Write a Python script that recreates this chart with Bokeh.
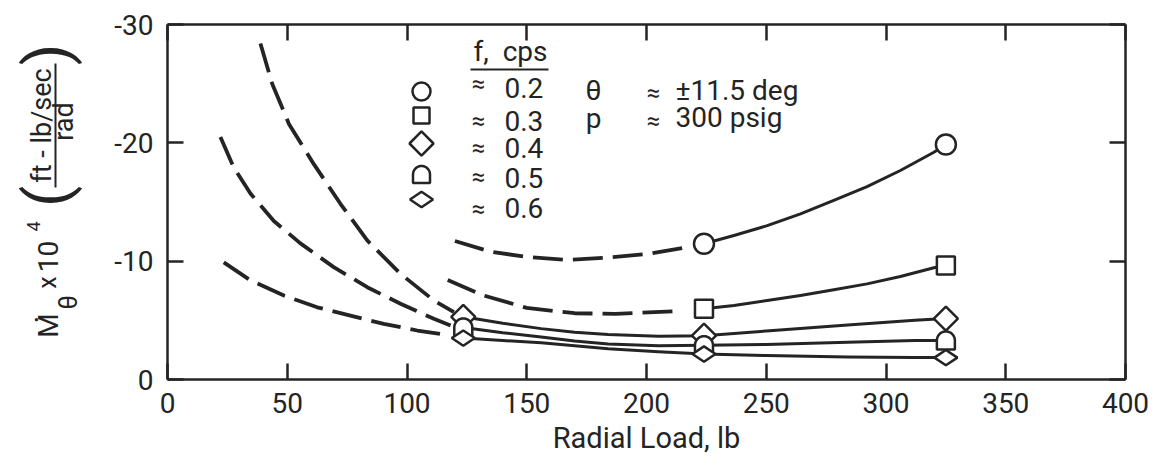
import numpy as np
from bokeh.plotting import figure
from bokeh.layouts import row
from bokeh.models import Range1d, FixedTicker, LinearAxis, Label, CustomJSTickFormatter
from bokeh.core.properties import value
from bokeh.embed import file_html
from bokeh.resources import INLINE

# ---------------- data ----------------
x_ticks = [0, 50, 100, 150, 200, 250, 300, 350, 400]
y_ticks = [0, -10, -20, -30]
freq_labels = ["0.2", "0.3", "0.4", "0.5", "0.6"]

# measured points
f02_x = [224, 325]
f02_y = [-11.47, -19.86]
f03_x = [224, 325]
f03_y = [-5.97, -9.63]
f04_x = [123.5, 224, 325]
f04_y = [-5.3, -3.7, -5.15]
f05_x = [123.5, 224, 325]
f05_y = [-4.4, -2.9, -3.3]
f06_x = [123.5, 224, 325]
f06_y = [-3.5, -2.15, -1.85]

# faired curves (solid = through data, dashed = extrapolation)
f02_dash_x = [120, 135, 150, 167, 184, 200, 215]
f02_dash_y = [-11.7, -10.8, -10.35, -10.1, -10.3, -10.6, -11.1]
f02_solid_x = [224, 236.5, 250.4, 264.3, 278.2, 292.1, 306, 320, 325]
f02_solid_y = [-11.47, -12.17, -13.0, -14.0, -15.13, -16.3, -17.66, -19.2, -19.86]

f03_dash_x = [117, 132, 150, 170, 187, 212]
f03_dash_y = [-8.4, -7.1, -6.05, -5.6, -5.55, -5.77]
f03_solid_x = [224, 236.5, 250.4, 264.3, 278.2, 292.1, 306, 320, 325]
f03_solid_y = [-5.97, -6.25, -6.68, -7.1, -7.58, -8.08, -8.7, -9.44, -9.63]

f04_dash_x = [38.8, 43.7, 50.7, 61.1, 72.2, 83.4, 97.3, 111.2, 119.6]
f04_dash_y = [-28.4, -25.0, -21.6, -18.2, -14.85, -11.75, -8.93, -6.68, -5.69]
f04_solid_x = [123.5, 140, 156, 170, 184, 205, 224, 250, 284, 312, 325]
f04_solid_y = [-5.3, -4.75, -4.3, -4.0, -3.8, -3.65, -3.7, -4.1, -4.6, -5.0, -5.15]

f05_dash_x = [22.1, 27.7, 34.7, 44.4, 55.5, 69.4, 83.4, 97.3, 111.2, 118.2]
f05_dash_y = [-20.5, -17.9, -15.7, -13.4, -11.5, -9.5, -7.8, -6.4, -5.13, -4.56]
f05_solid_x = [123.5, 140, 156, 170, 184, 205, 224, 250, 284, 312, 325]
f05_solid_y = [-4.4, -3.95, -3.6, -3.25, -3.0, -2.85, -2.9, -2.96, -3.15, -3.3, -3.3]

f06_dash_x = [23.5, 34.7, 48.6, 62.5, 76.4, 90.3, 104.3, 115.4]
f06_dash_y = [-9.9, -8.37, -7.1, -6.1, -5.4, -4.7, -4.14, -3.8]
f06_solid_x = [123.5, 140, 156, 170, 184, 205, 224, 250, 284, 312, 325]
f06_solid_y = [-3.5, -3.3, -3.1, -2.85, -2.6, -2.35, -2.15, -2.03, -1.9, -1.85, -1.85]

# ---------------- styling / layout ----------------
FONT = "Roboto"
INK = "#242424"
X0, X1 = 0, 400
Y0, Y1 = 0, -30
TOTAL_W, H = 1151, 466
LW = 100                      # width of the y-title strip
FRAME_L, FRAME_T, FRAME_W, FRAME_H = 167, 24, 958, 355   # page pixels
FRAME_B = FRAME_T + FRAME_H
MW = TOTAL_W - LW

p = figure(width=MW, height=H, output_backend="svg", toolbar_location=None,
           x_range=Range1d(X0, X1), y_range=Range1d(Y0, Y1),
           min_border_left=FRAME_L - LW, min_border_top=FRAME_T,
           min_border_right=MW - (FRAME_L - LW) - FRAME_W,
           min_border_bottom=H - FRAME_B,
           background_fill_color="white", border_fill_color="white")
p.outline_line_color = None
p.xgrid.visible = False
p.ygrid.visible = False

SX = FRAME_W / (X1 - X0)
SY = FRAME_H / abs(Y1 - Y0)


def page_to_data(px, py):
    """page pixel -> data coordinates (for placing annotation text)"""
    return X0 + (px - FRAME_L) / SX, Y0 - (FRAME_B - py) / SY


def style_axis(ax, ticks, labels=True):
    ax.ticker = FixedTicker(ticks=ticks)
    ax.axis_line_width = 2.5
    ax.axis_line_color = INK
    ax.major_tick_in = 16
    ax.major_tick_out = 0
    ax.major_tick_line_width = 2.5
    ax.major_tick_line_color = INK
    ax.minor_tick_line_color = None
    if labels:
        ax.formatter = CustomJSTickFormatter(code="return tick.toFixed(0);")
        ax.major_label_text_font = FONT
        ax.major_label_text_font_size = "28px"
        ax.major_label_text_color = INK
    else:
        ax.formatter = CustomJSTickFormatter(code="return '';")
        ax.major_label_standoff = 0


top = LinearAxis()
right = LinearAxis()
p.add_layout(top, "above")
p.add_layout(right, "right")
style_axis(p.below[0], x_ticks)
style_axis(p.left[0], y_ticks)
style_axis(top, x_ticks, labels=False)
style_axis(right, y_ticks, labels=False)
p.below[0].major_label_standoff = 13
p.left[0].major_label_standoff = 14
p.below[0].axis_label = "Radial Load, lb"
p.below[0].axis_label_text_font = FONT
p.below[0].axis_label_text_font_size = "29px"
p.below[0].axis_label_text_font_style = "normal"
p.below[0].axis_label_text_color = INK
p.below[0].axis_label_standoff = 5

# ---------------- curves ----------------
DASH = "30 10"
for xs, ys in [(f02_dash_x, f02_dash_y), (f03_dash_x, f03_dash_y), (f04_dash_x, f04_dash_y),
               (f05_dash_x, f05_dash_y), (f06_dash_x, f06_dash_y)]:
    p.line(xs, ys, line_color=INK, line_width=3.8, line_dash=DASH, line_join="round")
for xs, ys in [(f02_solid_x, f02_solid_y), (f03_solid_x, f03_solid_y), (f04_solid_x, f04_solid_y),
               (f05_solid_x, f05_solid_y), (f06_solid_x, f06_solid_y)]:
    p.line(xs, ys, line_color=INK, line_width=3, line_join="round")

# ---------------- markers ----------------
MK = dict(fill_color="white", line_color=INK, line_width=2.5)


def d_shape(cx, cy, r):
    t = np.linspace(0, np.pi, 25)
    xs = list(cx + r * np.cos(t) / SX) + [cx - r / SX, cx + r / SX]
    ys = list(cy - r * np.sin(t) / SY) + [cy + r / SY, cy + r / SY]
    return xs, ys


def draw_markers(kind, xs, ys, big=True):
    if kind == "circle":
        p.scatter(xs, ys, marker="circle", size=20 if big else 18, **MK)
    elif kind == "square":
        p.scatter(xs, ys, marker="square", size=18 if big else 16, **MK)
    elif kind == "diamond":
        p.scatter(xs, ys, marker="square", angle=np.pi / 4, size=17, **MK)
    elif kind == "dshape":
        shapes = [d_shape(x, y, 9 if big else 8.5) for x, y in zip(xs, ys)]
        p.patches([s[0] for s in shapes], [s[1] for s in shapes], **MK)
    elif kind == "flatdiamond":
        p.scatter(xs, ys, marker="diamond", angle=np.pi / 2, size=23, **MK)


draw_markers("diamond", f04_x, f04_y)
draw_markers("dshape", f05_x, f05_y)
draw_markers("flatdiamond", f06_x, f06_y)
draw_markers("square", f03_x, f03_y)
draw_markers("circle", f02_x, f02_y)

# legend symbols (column inside the plot)
kinds = ["circle", "square", "diamond", "dshape", "flatdiamond"]
leg_py = [91, 115, 143, 174, 199]
for k, py in zip(kinds, leg_py):
    lx, ly = page_to_data(421, py)
    draw_markers(k, [lx], [ly], big=False)


def label(px, py, text, size, align="left"):
    x, y = page_to_data(px, py)
    p.add_layout(Label(x=x, y=y, text=text, text_font=FONT, text_font_size=f"{size}px",
                       text_color=INK, text_align=align, text_baseline="middle"))


# legend text (py = visual middle)
label(473, 51, "f,\u00a0\u00a0cps", 28)
ux0, uy = page_to_data(470, 69)
ux1, _ = page_to_data(548, 69)
p.segment([ux0], [uy], [ux1], [uy], line_color=INK, line_width=2)

row_mid = [87, 120, 147, 177, 207]
approx_mid = [83, 120, 147, 176, 208]
for t, ym, ya in zip(freq_labels, row_mid, approx_mid):
    label(478, ya, "≈", 24, align="center")
    label(504, ym, t, 28)

label(593, 90, "θ", 28, align="center")
label(593, 118, "p", 28, align="center")
label(653, 92, "≈", 24, align="center")
label(653, 120, "≈", 24, align="center")
label(675, 90, "±11.5 deg", 28)
label(675, 117, "300 psig", 28)

# ---------------- y-axis title strip (rotated text) ----------------
# frame aligned with the main plot's frame; y data = H - page y
t = figure(width=LW, height=H, output_backend="svg", toolbar_location=None,
           x_range=Range1d(0, LW), y_range=Range1d(H - FRAME_B, H - FRAME_T),
           min_border_left=0, min_border_right=0,
           min_border_top=FRAME_T, min_border_bottom=H - FRAME_B,
           x_axis_location=None, y_axis_location=None,
           background_fill_color="white", border_fill_color="white")
t.outline_line_color = None
t.grid.visible = False

R = np.pi / 2
# (page x centre, page y centre, text, size)
title_parts = [
    (48, 325, "M", 28),
    (36, 319, "·", 30),
    (68, 302, "θ", 25),
    (47, 282, "x", 25),
    (47, 256, "10", 28),
    (33, 226, "4", 18),
    (46, 196, "(", 62),
    (41, 125, "ft - lb/sec", 27),
    (63, 121, "rad", 27),
    (46, 54, ")", 62),
]
for px, py, txt, sz in title_parts:
    t.text(x=[px], y=[H - py], text=[txt], angle=R, text_font=value(FONT),
           text_font_size=f"{sz}px", text_color=INK, text_align="center",
           text_baseline="middle")
# fraction bar of the unit
t.segment(x0=[55], y0=[H - 63], x1=[55], y1=[H - 187], line_color=INK, line_width=2)

layout = row(t, p)
open("out.html", "w").write(file_html(layout, INLINE))
